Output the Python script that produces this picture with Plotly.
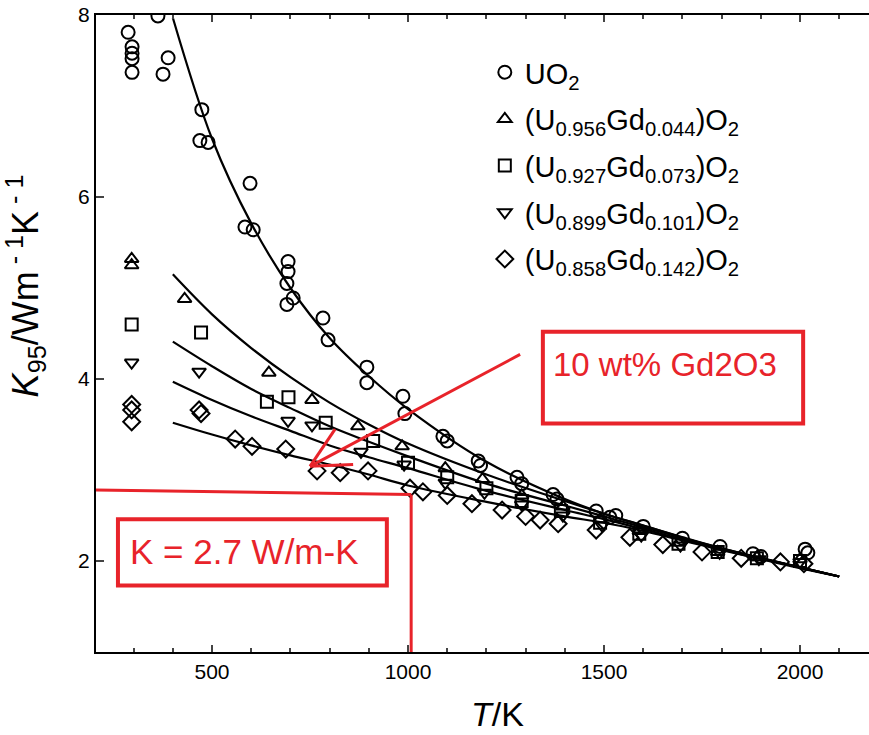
import plotly.graph_objects as go

# ---------------- data ----------------
uo2_T = [286, 296, 296, 296, 296, 362, 388, 375, 474, 469, 490, 597, 584, 605,
         694, 694, 691, 707, 691, 783, 796, 895, 895, 987, 992, 1089, 1100, 1179,
         1185, 1278, 1290, 1370, 1380, 1480, 1515, 1530, 1600, 1700, 1796, 1880,
         1900, 2013, 2020]
uo2_K = [7.81, 7.65, 7.58, 7.52, 7.37, 7.99, 7.53, 7.35, 6.96, 6.62, 6.60, 6.15,
         5.67, 5.64, 5.29, 5.18, 5.05, 4.89, 4.82, 4.67, 4.43, 4.13, 3.96, 3.81,
         3.62, 3.37, 3.32, 3.10, 3.05, 2.92, 2.85, 2.73, 2.68, 2.55, 2.48, 2.50,
         2.38, 2.25, 2.16, 2.08, 2.05, 2.13, 2.09]

gd044_T = [295, 295, 430, 645, 755, 872, 985, 1095, 1190, 1290, 1395, 1490, 1590,
           1690, 1790, 1890, 2000]
gd044_K = [5.32, 5.25, 4.88, 4.07, 3.77, 3.48, 3.26, 3.02, 2.90, 2.72, 2.60, 2.46,
           2.33, 2.20, 2.10, 2.04, 2.02]

gd073_T = [295, 472, 640, 695, 790, 911, 1000, 1100, 1200, 1290, 1390, 1490, 1590,
           1690, 1790, 1890, 2000]
gd073_K = [4.60, 4.51, 3.75, 3.80, 3.52, 3.32, 3.08, 2.92, 2.80, 2.66, 2.55, 2.42,
           2.30, 2.19, 2.10, 2.03, 2.00]

gd101_T = [295, 467, 694, 755, 880, 990, 1095, 1195, 1290, 1395, 1495, 1595, 1695,
           1795, 1895, 2000]
gd101_K = [4.18, 4.08, 3.54, 3.49, 3.20, 3.06, 2.86, 2.75, 2.62, 2.50, 2.39, 2.28,
           2.17, 2.09, 2.02, 1.99]

gd142_T = [295, 295, 295, 472, 467, 559, 602, 688, 768, 827, 898, 1005, 1038, 1100,
           1163, 1240, 1300, 1337, 1383, 1480, 1566, 1650, 1750, 1850, 1950, 2010]
gd142_K = [3.72, 3.66, 3.53, 3.62, 3.66, 3.34, 3.26, 3.23, 2.99, 2.97, 2.99, 2.80,
           2.76, 2.72, 2.63, 2.56, 2.49, 2.45, 2.41, 2.34, 2.26, 2.18, 2.10, 2.03,
           1.99, 1.97]

# fitted curves, read at these temperatures
fit_T = [400, 500, 600, 700, 800, 900, 1000, 1200, 1400, 1500, 1600, 1800, 2000, 2100]
fit_uo2 = [7.97, 6.64, 5.71, 5.00, 4.45, 4.03, 3.67, 3.09, 2.68, 2.52, 2.39, 2.13, 1.92, 1.83]
fit_044 = [5.15, 4.71, 4.34, 4.02, 3.74, 3.50, 3.29, 2.95, 2.66, 2.52, 2.39, 2.14, 1.93, 1.83]
fit_073 = [4.41, 4.14, 3.89, 3.68, 3.48, 3.31, 3.15, 2.85, 2.61, 2.49, 2.37, 2.14, 1.93, 1.83]
fit_101 = [3.97, 3.77, 3.59, 3.43, 3.27, 3.14, 3.02, 2.77, 2.56, 2.46, 2.35, 2.13, 1.93, 1.83]
fit_142 = [3.52, 3.39, 3.27, 3.16, 3.06, 2.95, 2.83, 2.65, 2.49, 2.42, 2.33, 2.12, 1.93, 1.83]

series_names = ["UO<sub>2</sub>",
                "(U<sub>0.956</sub>Gd<sub>0.044</sub>)O<sub>2</sub>",
                "(U<sub>0.927</sub>Gd<sub>0.073</sub>)O<sub>2</sub>",
                "(U<sub>0.899</sub>Gd<sub>0.101</sub>)O<sub>2</sub>",
                "(U<sub>0.858</sub>Gd<sub>0.142</sub>)O<sub>2</sub>"]
x_ticks = [500, 1000, 1500, 2000]
y_ticks = [2, 4, 6, 8]

# annotation values
k_target = 2.75
t_target = 1000

RED = "#e8232a"
FONT = "Liberation Sans"

fig = go.Figure()

for fk in [fit_uo2, fit_044, fit_073, fit_101, fit_142]:
    fig.add_trace(go.Scatter(x=fit_T, y=fk, mode="lines", line=dict(color="black", width=2.2, shape="spline"),
                             showlegend=False, hoverinfo="skip"))

symbols = ["circle-open", "triangle-up-open", "square-open", "triangle-down-open", "diamond-open"]
sizes = [13, 12, 12, 12, 13]
data = [(uo2_T, uo2_K), (gd044_T, gd044_K), (gd073_T, gd073_K), (gd101_T, gd101_K), (gd142_T, gd142_K)]
for i, ((tx, ky), name) in enumerate(zip(data, series_names)):
    fig.add_trace(go.Scatter(x=tx, y=ky, mode="markers", name=name, legendgroup=f"g{i}",
                             marker=dict(symbol=symbols[i], size=sizes[i], color="black",
                                         line=dict(color="black", width=2))))

# red annotation lines
fig.add_shape(type="line", x0=204, y0=2.78, x1=t_target + 8, y1=2.73, line=dict(color=RED, width=3))
fig.add_shape(type="line", x0=t_target + 8, y0=2.73, x1=t_target + 8, y1=1, line=dict(color=RED, width=3))
fig.add_shape(type="rect", x0=260, y0=1.73, x1=946, y1=2.46, line=dict(color=RED, width=4))
fig.add_shape(type="rect", x0=1344, y0=3.51, x1=2008, y1=4.52, line=dict(color=RED, width=4))
# arrow
fig.add_shape(type="line", x0=1286, y0=4.27, x1=750, y1=3.04, line=dict(color=RED, width=3))
fig.add_shape(type="line", x0=750, y0=3.04, x1=814, y1=3.45, line=dict(color=RED, width=3))
fig.add_shape(type="line", x0=750, y0=3.04, x1=860, y1=3.06, line=dict(color=RED, width=3))

fig.add_annotation(x=286, y=2.10, xref="x", yref="y", text="K = 2.7 W/m-K", showarrow=False,
                   xanchor="left", yanchor="middle", font=dict(family=FONT, size=35, color=RED))
fig.add_annotation(x=1365, y=4.16, xref="x", yref="y", text="10 wt% Gd2O3", showarrow=False,
                   xanchor="left", yanchor="middle", font=dict(family=FONT, size=33, color=RED))

# y-axis title
fig.add_annotation(x=-0.091, y=0.575, xref="paper", yref="paper",
                   text="<i>K</i><sub>95</sub>/Wm<sup> - 1</sup>K<sup> - 1</sup>", textangle=-90,
                   showarrow=False, xanchor="center", yanchor="middle",
                   font=dict(family=FONT, size=36, color="black"))

# x-axis title
fig.add_annotation(x=0.52, y=-0.097, xref="paper", yref="paper",
                   text="<i>T</i>/K", showarrow=False, xanchor="center", yanchor="middle",
                   font=dict(family=FONT, size=34, color="black"))

fig.update_layout(
    width=869, height=735,
    margin=dict(l=96, r=0, t=15, b=83, autoexpand=False),
    paper_bgcolor="white", plot_bgcolor="white",
    font=dict(family=FONT, color="black"),
    showlegend=True,
    legend=dict(x=0.503, y=0.95, xanchor="left", yanchor="top",
                font=dict(family=FONT, size=29, color="black"),
                bgcolor="rgba(0,0,0,0)", traceorder="grouped", tracegroupgap=6,
                itemsizing="trace"),
    xaxis=dict(range=[204, 2176], tickvals=x_ticks, ticks="inside", ticklen=7, tickwidth=2,
               showline=True, linewidth=2, linecolor="black", mirror="ticks",
               showgrid=False, zeroline=False, automargin=False,
               minor=dict(dtick=100, tick0=0, ticks="inside", ticklen=4, tickwidth=1.5, showgrid=False),
               tickfont=dict(family=FONT, size=21, color="black")),
    yaxis=dict(range=[1, 8], tickvals=y_ticks, ticks="inside", ticklen=8, tickwidth=2,
               showline=True, linewidth=2, linecolor="black", automargin=False,
               showgrid=False, zeroline=False, ticklabeloverflow="allow",
               tickfont=dict(family=FONT, size=21, color="black")),
)

fig.write_html("out.html", config={"displayModeBar": False},
               post_script="document.body.style.margin='0';document.body.style.overflow='hidden';")
